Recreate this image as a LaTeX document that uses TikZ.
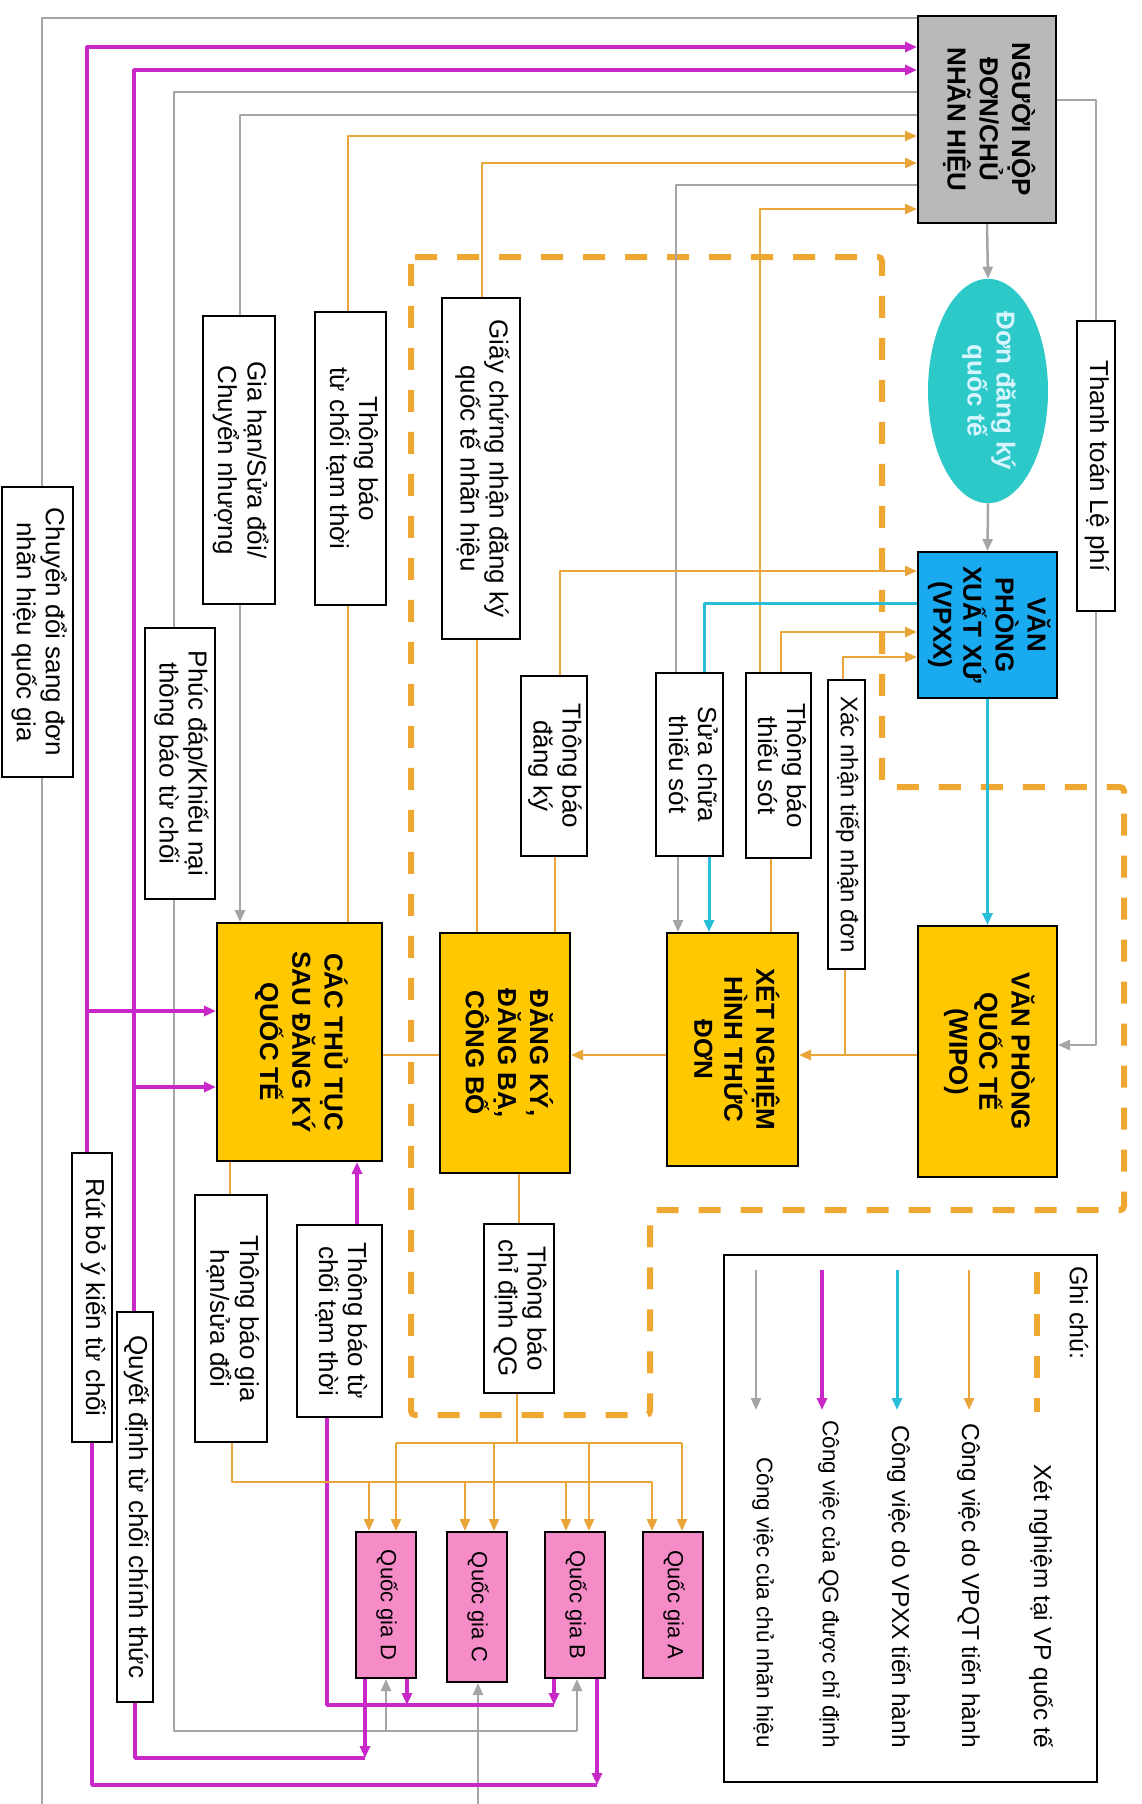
\documentclass[tikz,border=0pt]{standalone}
\usepackage{fontspec}
\setmainfont{Liberation Sans}
\usetikzlibrary{arrows.meta,shapes.geometric}
\pgfdeclarelayer{bg}
\pgfsetlayers{bg,main}
\definecolor{og}{RGB}{233,165,58}
\definecolor{mg}{RGB}{200,40,200}
\definecolor{cy}{RGB}{40,190,215}
\definecolor{gy}{RGB}{165,165,165}
\definecolor{yb}{RGB}{255,200,0}
\definecolor{bb}{RGB}{25,170,240}
\definecolor{tl}{RGB}{45,200,200}
\definecolor{gb}{RGB}{185,185,185}
\definecolor{pk}{RGB}{245,140,200}
\definecolor{dsh}{RGB}{238,168,50}
\definecolor{ltx}{RGB}{215,245,255}
\newcommand\rtext[1]{\rotatebox{-90}{\begin{tabular}{@{}c@{}}#1\end{tabular}}}
\tikzset{
  box/.style={draw=black, line width=2pt, inner sep=0pt, fill=white, font=\fontsize{26}{29}\selectfont},
  mainbox/.style={box, fill=yb, font=\fontsize{26}{30}\selectfont\bfseries},
  qgbox/.style={box, fill=pk, font=\fontsize{22}{26}\selectfont},
  sz/.style 2 args={minimum width=#1pt, minimum height=#2pt},
  arr/.style={-{Triangle[length=12pt,width=10pt]}},
  ol/.style={draw=og, line width=2.5pt, line join=round},
  ml/.style={draw=mg, line width=3.5pt, line join=round},
  cl/.style={draw=cy, line width=3pt, line join=round},
  gl/.style={draw=gy, line width=2.5pt, line join=round},
  dashline/.style={draw=dsh, line width=6pt, dash pattern=on 22pt off 20pt},
  legtext/.style={rotate=-90, anchor=east, inner sep=0pt, font=\fontsize{24.5}{29}\selectfont},
  legsmall/.style={legtext, font=\fontsize{22.5}{27}\selectfont}
}
\begin{document}
\begin{tikzpicture}[x=1pt,y=-1pt]
\useasboundingbox (0,0) rectangle (1142,1804);
\begin{pgfonlayer}{bg}
\fill[white] (0,0) rectangle (1142,1804);
\end{pgfonlayer}

% main nodes
\node[box, fill=gb, font=\fontsize{26}{30}\selectfont\bfseries, sz={138}{207}] (nguoi) at (987,119.5) {\rtext{NGƯỜI NỘP\\ĐƠN/CHỦ\\NHÃN HIỆU}};
\node[ellipse, fill=tl, inner sep=0pt, minimum width=120pt, minimum height=208pt, text=ltx, font=\fontsize{26}{29}\selectfont\bfseries] (don) at (988,391) {\rtext{Đơn đăng ký\\quốc tế}};
\node[box, sz={38}{290}] (thanhtoan) at (1096,466) {\rtext{Thanh toán Lệ phí}};
\node[mainbox, fill=bb, sz={139}{146}] (vpxx) at (987.5,625) {\rtext{VĂN\\PHÒNG\\XUẤT XỨ\\(VPXX)}};
\node[mainbox, sz={139}{251}] (wipo) at (987.5,1051.5) {\rtext{VĂN PHÒNG\\QUỐC TẾ\\(WIPO)}};
\node[mainbox, sz={131}{233}] (xet) at (732.5,1049.5) {\rtext{XÉT NGHIỆM\\HÌNH THỨC\\ĐƠN}};
\node[mainbox, sz={130}{240}] (dangky) at (505,1053) {\rtext{ĐĂNG KÝ,\\ĐĂNG BẠ,\\CÔNG BỐ}};
\node[mainbox, sz={165}{238}] (cac) at (299.5,1042) {\rtext{CÁC THỦ TỤC\\SAU ĐĂNG KÝ\\QUỐC TẾ}};

% label boxes
\node[box, sz={37}{289}, font=\fontsize{24}{28}\selectfont] (xacnhan) at (846.5,824.5) {\rtext{Xác nhận tiếp nhận đơn}};
\node[box, sz={65}{185}] (tbts) at (778.5,765.5) {\rtext{Thông báo\\thiếu sót}};
\node[box, sz={67}{183}] (scts) at (689.5,764.5) {\rtext{Sửa chữa\\thiếu sót}};
\node[box, sz={66}{180}] (tbdk) at (554,766) {\rtext{Thông báo\\đăng ký}};
\node[box, sz={78}{341}] (giay) at (481,468.5) {\rtext{Giấy chứng nhận đăng ký\\quốc tế nhãn hiệu}};
\node[box, sz={71}{293}] (tbtc1) at (350.5,458.5) {\rtext{Thông báo\\từ chối tạm thời}};
\node[box, sz={72}{288}] (giahan) at (239,460) {\rtext{Gia hạn/Sửa đổi/\\Chuyển nhượng}};
\node[box, sz={70}{271}] (phucdap) at (180,763.5) {\rtext{Phúc đáp/Khiếu nại\\thông báo từ chối}};
\node[box, sz={71}{290}] (chuyendoi) at (37.5,632) {\rtext{Chuyển đổi sang đơn\\nhãn hiệu quốc gia}};
\node[box, sz={40}{289}] (rutbo) at (92,1297.5) {\rtext{Rút bỏ ý kiến từ chối}};
\node[box, sz={36}{390}] (quyetdinh) at (135,1507) {\rtext{Quyết định từ chối chính thức}};
\node[box, sz={72}{247}] (tbgh) at (231,1318.5) {\rtext{Thông báo gia\\hạn/sửa đổi}};
\node[box, sz={85}{192}] (tbtc2) at (339.5,1321) {\rtext{Thông báo từ\\chối tạm thời}};
\node[box, sz={70}{169}] (tbcd) at (519,1308.5) {\rtext{Thông báo\\chỉ định QG}};

% countries
\node[qgbox, sz={60}{146}] (qgD) at (386,1605) {\rtext{Quốc gia D}};
\node[qgbox, sz={60}{150}] (qgC) at (477,1607) {\rtext{Quốc gia C}};
\node[qgbox, sz={60}{146}] (qgB) at (575,1605) {\rtext{Quốc gia B}};
\node[qgbox, sz={60}{146}] (qgA) at (673,1605) {\rtext{Quốc gia A}};

% legend
\node[draw=black, line width=2pt, inner sep=0pt, sz={373}{527}] (leg) at (910.5,1518.5) {};
\node[rotate=-90, anchor=west, inner sep=0pt, font=\fontsize{25}{29}\selectfont] (ghichu) at (1079,1266) {Ghi chú:};
\coordinate (l1a) at (1037,1272); \coordinate (l1b) at (1037,1412);
\coordinate (l2a) at (969,1270); \coordinate (l2b) at (969,1410);
\coordinate (l3a) at (897,1270); \coordinate (l3b) at (897,1410);
\coordinate (l4a) at (822,1270); \coordinate (l4b) at (822,1410);
\coordinate (l5a) at (756,1270); \coordinate (l5b) at (756,1410);
\draw[dashline] (l1a) -- (l1b);
\draw[ol,arr] (l2a) -- (l2b);
\draw[cl,arr] (l3a) -- (l3b);
\draw[ml,arr] (l4a) -- (l4b);
\draw[gl,arr] (l5a) -- (l5b);
\node[legtext] (t1) at (1041,1748) {Xét nghiệm tại VP quốc tế};
\node[legtext] (t2) at (969,1748) {Công việc do VPQT tiến hành};
\node[legtext] (t3) at (899,1748) {Công việc do VPXX tiến hành};
\node[legsmall] (t4) at (829,1748) {Công việc của QG được chỉ định};
\node[legsmall] (t5) at (763,1748) {Công việc của chủ nhãn hiệu};

% junction coordinates
\coordinate (gEndA) at (42,1804);
\coordinate (gEndC) at (478,1804);
\coordinate (jGB) at (577,1731);
\coordinate (jGD) at (386,1731);
\coordinate (jM1) at (87,1011);
\coordinate (jM2) at (134,1087);
\coordinate (jMB) at (597,1785);
\coordinate (jMD) at (365,1758);
\coordinate (jTB) at (554,1705);
\coordinate (jTD) at (407,1705);
\coordinate (jX) at (845,1055);
\coordinate (bus1) at (517,1443);
\coordinate (bus2) at (232,1482);

\begin{pgfonlayer}{bg}
% examination region
\draw[dashline, rounded corners=4pt] (411,257) -- (882,257) -- (882,787) -- (1124,787) -- (1124,1210) -- (650,1210) -- (650,1415) -- (411,1415) -- cycle;

% grey: owner
\draw[gl] (nguoi.west |- 0,18) -| (chuyendoi.north -| 42,0);
\draw[gl] (chuyendoi.south -| 42,0) -- (gEndA);
\draw[gl] (nguoi.west |- 0,92) -| (phucdap.north -| 174,0);
\draw[gl] (phucdap.south -| 174,0) |- (jGB);
\draw[gl,arr] (jGB) -- (qgB.south -| jGB);
\draw[gl,arr] (jGD) -- (qgD.south -| jGD);
\draw[gl] (nguoi.west |- 0,115) -| (giahan.north -| 240,0);
\draw[gl,arr] (giahan.south -| 240,0) -- (cac.north -| 240,0);
\draw[gl] (nguoi.west |- 0,185) -| (scts.north -| 676,0);
\draw[gl,arr] (scts.south -| 678,0) -- (xet.north -| 678,0);
\draw[gl,arr] (nguoi.south) -- (don.north);
\draw[gl,arr] (don.south) -- (vpxx.north);
\draw[gl] (nguoi.east |- 0,100) -| (thanhtoan.north);
\draw[gl,arr] (thanhtoan.south) |- (wipo.east |- 0,1045);
\draw[gl,arr] (gEndC) -- (qgC.south -| gEndC);

% magenta: designated countries
\draw[ml,arr] (rutbo.north -| jM1) |- (nguoi.west |- 0,47);
\draw[ml,arr] (jM1) -- (cac.west |- jM1);
\draw[ml,arr] (quyetdinh.north -| jM2) |- (nguoi.west |- 0,70);
\draw[ml,arr] (jM2) -- (cac.west |- jM2);
\draw[ml,arr] (qgB.south -| jMB) -- (jMB);
\draw[ml] (jMB) -| (rutbo.south);
\draw[ml,arr] (qgD.south -| jMD) -- (jMD);
\draw[ml] (jMD) -| (quyetdinh.south);
\draw[ml,arr] (tbtc2.north -| 357,0) -- (cac.south -| 357,0);
\draw[ml] (tbtc2.south -| 327,0) |- (jTB);
\draw[ml,arr] (qgD.south -| jTD) -- (jTD);
\draw[ml,arr] (qgB.south -| jTB) -- (jTB);

% orange: international bureau
\draw[ol,arr] (tbtc1.north -| 348,0) |- (nguoi.west |- 0,136);
\draw[ol] (tbtc1.south -| 348,0) -- (cac.north -| 348,0);
\draw[ol,arr] (giay.north -| 482,0) |- (nguoi.west |- 0,163);
\draw[ol] (giay.south -| 477,0) -- (dangky.north -| 477,0);
\draw[ol,arr] (tbts.north -| 760,0) |- (nguoi.west |- 0,209);
\draw[ol,arr] (tbts.north -| 781,0) |- (vpxx.west |- 0,632);
\draw[ol] (tbts.south -| 771,0) -- (xet.north -| 771,0);
\draw[ol,arr] (tbdk.north -| 560,0) |- (vpxx.west |- 0,571);
\draw[ol] (tbdk.south -| 555,0) -- (dangky.north -| 555,0);
\draw[ol,arr] (xacnhan.north -| 843,0) |- (vpxx.west |- 0,657);
\draw[ol] (xacnhan.south -| jX) -- (jX);
\draw[ol,arr] (wipo.west |- jX) -- (xet.east |- jX);
\draw[ol,arr] (xet.west |- jX) -- (dangky.east |- jX);
\draw[ol] (dangky.west |- jX) -- (cac.east |- jX);
\draw[ol] (dangky.south -| 519,0) -- (tbcd.north -| 519,0);
\draw[ol] (tbcd.south -| bus1) -- (bus1);
\draw[ol] (396,1443) -- (682,1443);
\draw[ol,arr] (396,1443) -- (qgD.north -| 396,0);
\draw[ol,arr] (494,1443) -- (qgC.north -| 494,0);
\draw[ol,arr] (589,1443) -- (qgB.north -| 589,0);
\draw[ol,arr] (682,1443) -- (qgA.north -| 682,0);
\draw[ol] (tbgh.north -| 230,0) -- (cac.south -| 230,0);
\draw[ol] (tbgh.south -| bus2) |- (652,1482);
\draw[ol,arr] (369,1482) -- (qgD.north -| 369,0);
\draw[ol,arr] (465,1482) -- (qgC.north -| 465,0);
\draw[ol,arr] (566,1482) -- (qgB.north -| 566,0);
\draw[ol,arr] (652,1482) -- (qgA.north -| 652,0);

% cyan: office of origin
\draw[cl,arr] (vpxx.south) -- (wipo.north);
\draw[cl] (vpxx.west |- 0,603) -| (scts.north -| 704,0);
\draw[cl,arr] (scts.south -| 709,0) -- (xet.north -| 709,0);
\end{pgfonlayer}
\end{tikzpicture}
\end{document}
